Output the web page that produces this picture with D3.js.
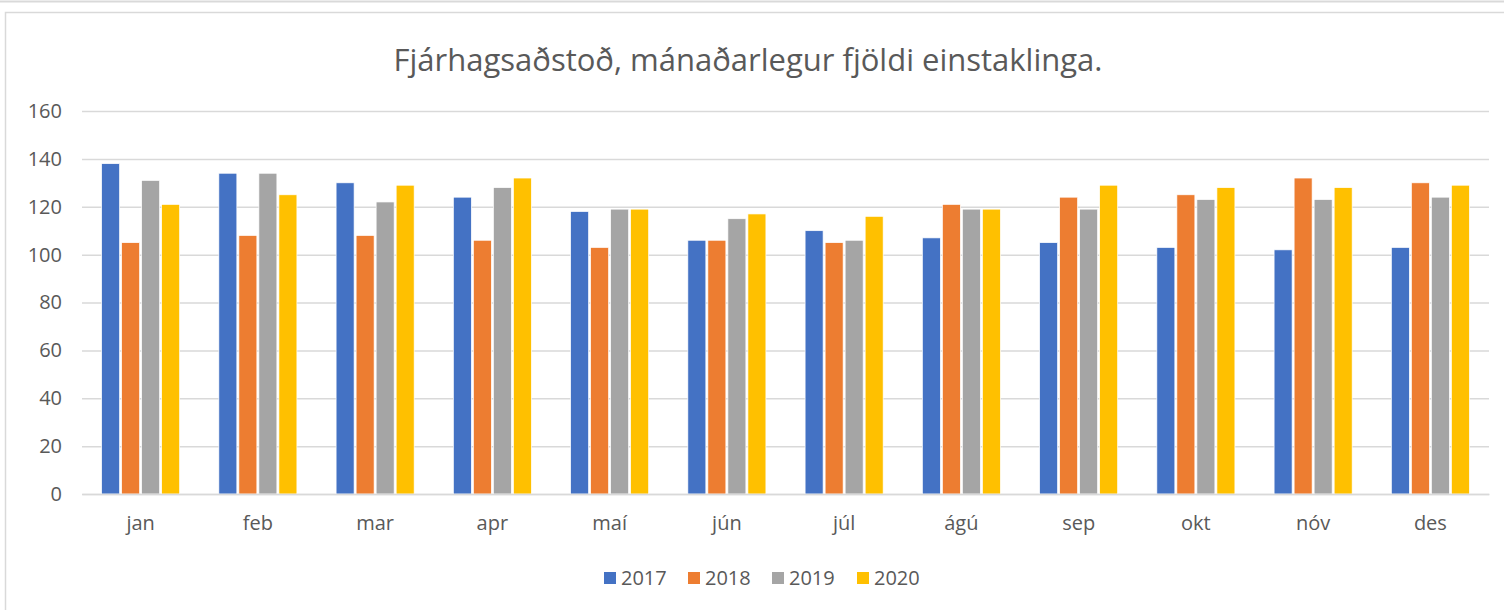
<!DOCTYPE html>
<html>
<head>
<meta charset="utf-8">
<script src="https://cdn.jsdelivr.net/npm/d3@7"></script>
<style>
  body { margin: 0; background: #fff; }
  svg text { font-family: "Open Sans", "Noto Sans", sans-serif; fill: #595959; }
</style>
</head>
<body>
<div id="chart"></div>
<script>
const months = ["jan", "feb", "mar", "apr", "maí", "jún", "júl", "ágú", "sep", "okt", "nóv", "des"];
const years = ["2017", "2018", "2019", "2020"];
const v2017 = [138, 134, 130, 124, 118, 106, 110, 107, 105, 103, 102, 103];
const v2018 = [105, 108, 108, 106, 103, 106, 105, 121, 124, 125, 132, 130];
const v2019 = [131, 134, 122, 128, 119, 115, 106, 119, 119, 123, 123, 124];
const v2020 = [121, 125, 129, 132, 119, 117, 116, 119, 129, 128, 128, 129];
const yTicks = [0, 20, 40, 60, 80, 100, 120, 140, 160];
const colors = ["#4472c4", "#ed7d31", "#a5a5a5", "#ffc000"];

const seriesValues = [v2017, v2018, v2019, v2020];

let width = 1504;
let height = 610;
let plotLeft = 82, plotRight = 1489, plotTop = 111, plotBottom = 494;

let svg = d3.select("#chart")
    .append("svg")
    .attr("width", width)
    .attr("height", height);

// outer frame
svg.append("line")
    .attr("x1", 0).attr("x2", width)
    .attr("y1", 1.5).attr("y2", 1.5)
    .attr("stroke", "#d9d9d9").attr("stroke-width", 2);
svg.append("rect")
    .attr("x", 5.5).attr("y", 12.5)
    .attr("width", width + 10).attr("height", height + 10)
    .attr("fill", "none")
    .attr("stroke", "#d9d9d9").attr("stroke-width", 1.5);

let x0 = d3.scaleBand()
    .domain(months)
    .range([plotLeft, plotRight])
    .paddingInner(0.3)
    .paddingOuter(0.15);

let x1 = d3.scaleBand()
    .domain(years)
    .range([0, x0.bandwidth()])
    .padding(0.1);

let yScale = d3.scaleLinear()
    .domain([0, 160])
    .range([plotBottom, plotTop]);

// gridlines
let yAxis = d3.axisLeft(yScale)
    .tickValues(yTicks)
    .tickSize(-(plotRight - plotLeft))
    .tickPadding(20);

let gy = svg.append("g")
    .attr("transform", "translate(" + plotLeft + ",0)")
    .call(yAxis);
gy.select(".domain").remove();
gy.selectAll(".tick line")
    .attr("stroke", "#d9d9d9")
    .attr("stroke-width", 1.5);
gy.selectAll(".tick text")
    .attr("font-size", "20px")
    .attr("fill", "#595959");

// bars
let groups = svg.selectAll(".month")
    .data(months)
    .enter()
    .append("g")
    .attr("transform", function (d) { return "translate(" + x0(d) + ",0)"; });

groups.selectAll("rect")
    .data(function (d, i) {
        return years.map(function (yr, j) { return { year: yr, value: seriesValues[j][i], idx: j }; });
    })
    .enter()
    .append("rect")
    .attr("x", function (d) { return x1(d.year); })
    .attr("y", function (d) { return yScale(d.value); })
    .attr("width", x1.bandwidth())
    .attr("height", function (d) { return plotBottom - yScale(d.value); })
    .attr("fill", function (d) { return colors[d.idx]; })
    .attr("stroke", "#fff")
    .attr("stroke-width", 0.7);

// x axis
let xAxis = d3.axisBottom(x0).tickSize(0).tickPadding(22);
let gx = svg.append("g")
    .attr("transform", "translate(0," + plotBottom + ")")
    .call(xAxis);
gx.select(".domain")
    .attr("stroke", "#d9d9d9")
    .attr("stroke-width", 1.5);
gx.selectAll(".tick text")
    .attr("font-size", "20px")
    .attr("fill", "#595959");

// title
svg.append("text")
    .attr("x", 748)
    .attr("y", 71)
    .attr("text-anchor", "middle")
    .attr("font-size", "31px")
    .text("Fjárhagsaðstoð, mánaðarlegur fjöldi einstaklinga.");

// legend
let legendX = [604, 688, 772, 857];
let legend = svg.selectAll(".legend")
    .data(years)
    .enter()
    .append("g")
    .attr("transform", function (d, i) { return "translate(" + legendX[i] + ",572)"; });
legend.append("rect")
    .attr("width", 12).attr("height", 12)
    .attr("fill", function (d, i) { return colors[i]; });
legend.append("text")
    .attr("x", 17)
    .attr("y", 13)
    .attr("font-size", "20px")
    .text(function (d) { return d; });
</script>
</body>
</html>
